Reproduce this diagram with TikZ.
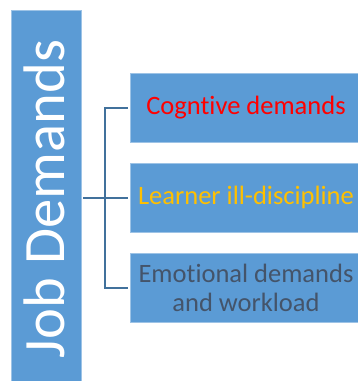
\documentclass[tikz,border=0pt]{standalone}
\usepackage{fontspec}
\setmainfont{Carlito}[Ligatures=NoCommon]
\begin{document}
\definecolor{boxblue}{HTML}{5B9BD5}
\definecolor{boxedge}{HTML}{9DC3E6}
\definecolor{linkblue}{HTML}{41719C}
\definecolor{darktext}{HTML}{44546A}
\definecolor{goldtext}{HTML}{FFC000}
\begin{tikzpicture}[x=1pt,y=-1pt,
  panel/.style={draw=boxedge,line width=0.8pt,fill=boxblue,inner sep=0pt,
    minimum width=232pt,minimum height=69pt,
    font=\fontsize{26.5}{29.3}\selectfont,align=center},
  head/.style={draw=boxedge,line width=0.8pt,fill=boxblue,inner sep=0pt,
    minimum width=70pt,minimum height=380pt},
  link/.style={draw=linkblue,line width=2pt}]
\useasboundingbox (0,0) rectangle (358,381);
\clip (0,0) rectangle (358,381);
% main heading bar
\node[head] (jd) at (46,200) {};
\node[rotate=90,text=white,font=\fontsize{58.6}{60}\selectfont] (jdtext) at (44,199) {Job Demands};
% the three demand boxes
\node[panel,text=red] (c1) at (246,107.8) {Cogntive demands};
\node[panel,text=goldtext] (c2) at (246,197.8) {Learner ill-discipline};
\node[panel,text=darktext] (c3) at (246,287.8) {Emotional demands\\and workload};
% bracket connectors
\coordinate (split) at (105,197.8);
\draw[link,shorten <=2pt,shorten >=2pt] (jd.east |- c2.west) -- (c2.west);
\draw[link,shorten <=2pt,shorten >=2pt] (c1.west) -| (split) |- (c3.west);
\end{tikzpicture}
\end{document}
